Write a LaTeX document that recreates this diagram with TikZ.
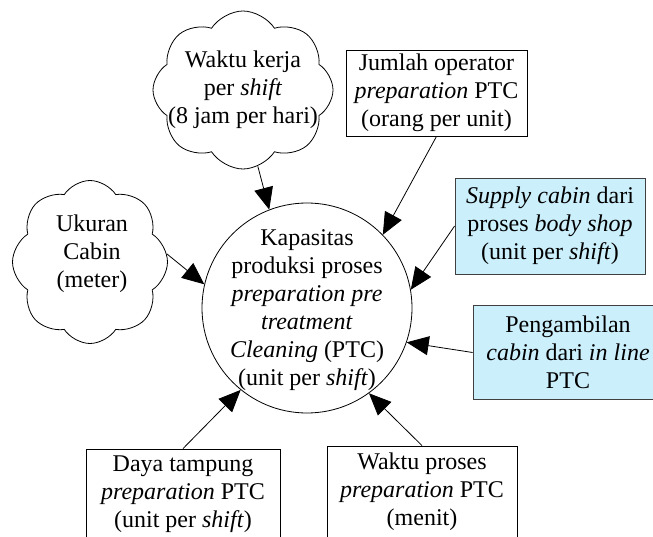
\documentclass[tikz,border=0pt]{standalone}
\usepackage{fontspec}
\setmainfont{Liberation Serif}
\usetikzlibrary{shapes.symbols,arrows.meta}
\begin{document}
\begin{tikzpicture}[x=1pt,y=-1pt,
  every node/.style={font=\fontsize{24}{28}\selectfont},
  puff/.style={cloud, cloud puffs=8, cloud puff arc=115, draw, line width=0.8pt, inner sep=0pt},
  plainbox/.style={draw, line width=0.8pt, align=center, inner sep=0pt},
  given/.style={plainbox, fill=cyan!20, draw=black!75},
  txt/.style={align=center, inner sep=0pt},
  feed/.style={-{Triangle[length=22pt,width=19pt]}, line width=0.8pt}
]
\useasboundingbox (0,0) rectangle (653,537);
\clip (0,0) rectangle (653,537);

% central quantity
\node[circle, draw, line width=0.8pt, minimum size=210pt, inner sep=0pt] (kap) at (307,308) {};
\node[txt] (kapt) at (307,310) {Kapasitas\\produksi proses\\\emph{preparation pre}\\\emph{treatment}\\\emph{Cleaning} (PTC)\\(unit per \emph{shift})};

% assumptions (clouds)
\node[puff, minimum width=180pt, minimum height=158pt] (wk) at (243,90) {};
\node[txt] (wkt) at (243,90) {Waktu kerja\\per \emph{shift}\\(8 jam per hari)};
\node[puff, minimum width=155pt, minimum height=163pt] (uk) at (90,262) {};
\node[txt] (ukt) at (92,254) {Ukuran\\Cabin\\(meter)};

% inputs
\node[plainbox, minimum width=181pt, minimum height=86pt] (jo) at (436.5,93) {Jumlah operator\\\emph{preparation} PTC\\(orang per unit)};
\node[given, minimum width=190pt, minimum height=96pt] (sup) at (550,226) {\emph{Supply cabin} dari\\proses \emph{body shop}\\(unit per \emph{shift})};
\node[given, minimum width=190pt, minimum height=94pt] (peng) at (568,352.5) {Pengambilan\\\emph{cabin} dari \emph{in line}\\PTC};
\node[plainbox, minimum width=194pt, minimum height=90pt] (daya) at (183,494) {Daya tampung\\\emph{preparation} PTC\\(unit per \emph{shift})};
\node[plainbox, minimum width=190pt, minimum height=92pt] (wp) at (422,492) {Waktu proses\\\emph{preparation} PTC\\(menit)};

% influences
\draw[feed] (wk.281) -- (kap.111);
\draw[feed] (jo.south) -- (kap.44);
\draw[feed] (uk.6) -- (kap.167);
\draw[feed] (sup.west) -- (kap.10);
\draw[feed] (peng.west) -- (kap.-19);
\draw[feed] (daya.north) -- (kap.231);
\draw[feed] (wp.north) -- (kap.306);
\end{tikzpicture}
\end{document}
